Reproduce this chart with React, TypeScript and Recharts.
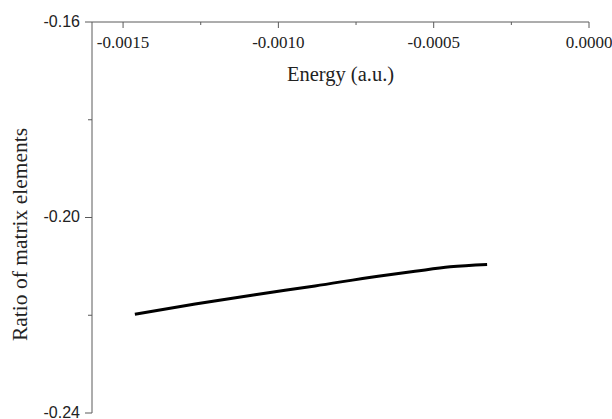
import { LineChart, Line, XAxis, YAxis, Label } from "recharts";

// energy (a.u.) and the matching ratio of matrix elements
const energy = [-0.001462, -0.001268, -0.001075, -0.000882, -0.000679, -0.00056, -0.000447, -0.000328];
const ratio = [-0.2198, -0.2177, -0.2158, -0.214, -0.212, -0.211, -0.2101, -0.2096];

const energyTicks = [-0.0015, -0.00125, -0.001, -0.00075, -0.0005, -0.00025, 0];
const energyLabels = ["-0.0015", "", "-0.0010", "", "-0.0005", "", "0.0000"];
const ratioTicks = [-0.24, -0.22, -0.2, -0.18, -0.16];
const ratioLabels = ["-0.24", "", "-0.20", "", "-0.16"];

const data = energy.map((e, i) => ({ energy: e, ratio: ratio[i] }));

const AXIS = "#5a5a5a";
const SERIF = "'Liberation Serif', 'Times New Roman', serif";
const SANS = "'Liberation Sans', Arial, sans-serif";

const EnergyTick = (props: any) => {
  const { x, y, index } = props;
  const text = energyLabels[index];
  return (
    <g>
      <line x1={x} x2={x} y1={y} y2={y + (text ? 6 : 3)} stroke={AXIS} strokeWidth={1} />
      {text && (
        <text x={x} y={y + 26} textAnchor="middle" fontFamily={SERIF} fontSize={17} fill="#222">
          {text}
        </text>
      )}
    </g>
  );
};

const RatioTick = (props: any) => {
  const { x, y, index } = props;
  const text = ratioLabels[index];
  return (
    <g>
      <line x1={x - (text ? 7 : 4)} x2={x} y1={y} y2={y} stroke={AXIS} strokeWidth={1} />
      {text && (
        <text x={x - 12} y={y} dy="0.3em" textAnchor="end" fontFamily={SANS} fontSize={16} fill="#222">
          {text}
        </text>
      )}
    </g>
  );
};

const RatioTitle = (props: any) => {
  const { viewBox } = props;
  const cx = viewBox.x + 20;
  const cy = viewBox.y + viewBox.height / 2 + 17;
  return (
    <text
      x={cx}
      y={cy}
      transform={`rotate(-90, ${cx}, ${cy})`}
      textAnchor="middle"
      dominantBaseline="central"
      fontFamily={SERIF}
      fontSize={21.5}
      fill="#222"
    >
      Ratio of matrix elements
    </text>
  );
};

export default function App() {
  return (
    <div style={{ position: "absolute", left: 0, top: 0, background: "#fff" }}>
      <LineChart width={612} height={419} data={data} margin={{ top: 21, right: 23, bottom: 6, left: 0 }}>
        <XAxis
          dataKey="energy"
          type="number"
          orientation="top"
          domain={[-0.0016, 0]}
          ticks={energyTicks}
          interval={0}
          height={1}
          tickSize={0}
          tickMargin={0}
          tickLine={false}
          axisLine={{ stroke: AXIS }}
          tick={<EnergyTick />}
          allowDataOverflow
        >
          <Label
            value="Energy (a.u.)"
            position="bottom"
            offset={44}
            fontFamily={SERIF}
            fontSize={20.5}
            fill="#222"
          />
        </XAxis>
        <YAxis
          type="number"
          domain={[-0.24, -0.16]}
          ticks={ratioTicks}
          interval={0}
          width={92}
          tickSize={0}
          tickMargin={0}
          tickLine={false}
          axisLine={{ stroke: AXIS }}
          tick={<RatioTick />}
          allowDataOverflow
        >
          <Label content={<RatioTitle />} />
        </YAxis>
        <Line
          type="monotone"
          dataKey="ratio"
          stroke="#000"
          strokeWidth={3}
          dot={false}
          isAnimationActive={false}
        />
      </LineChart>
    </div>
  );
}
